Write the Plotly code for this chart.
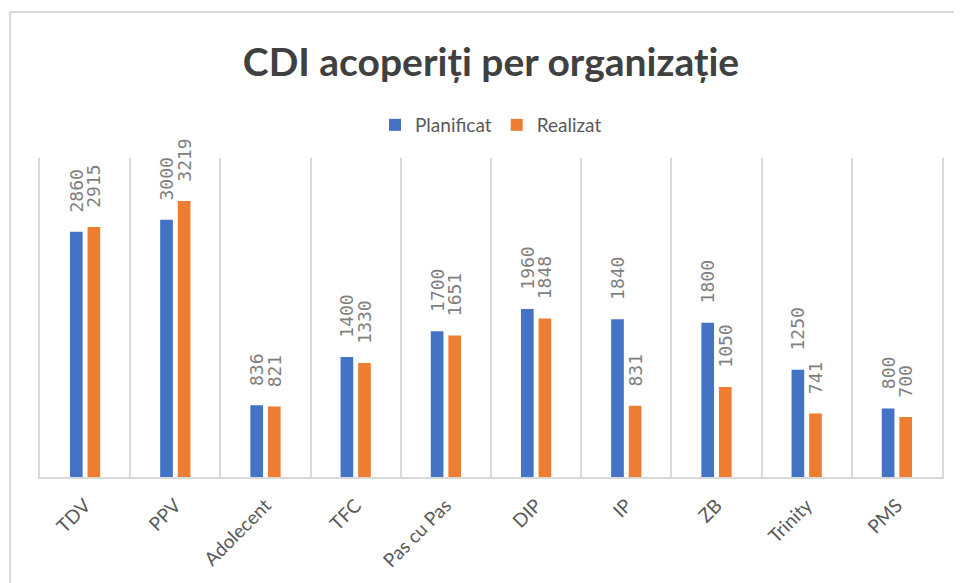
import plotly.graph_objects as go

categories = ["TDV", "PPV", "Adolecent", "TFC", "Pas cu Pas", "DIP", "IP", "ZB", "Trinity", "PMS"]
planificat = [2860, 3000, 836, 1400, 1700, 1960, 1840, 1800, 1250, 800]
realizat = [2915, 3219, 821, 1330, 1651, 1848, 831, 1050, 741, 700]

# page has an 8px body margin; work in page coordinates and convert
OFF = 8
W, H = 962 - OFF, 583 - OFF
PL, PR, PT, PB = 40, 942, 158, 477  # plot area in page pixels
L, R, T, B = PL - OFF, W - (PR - OFF), PT - OFF, H - (PB - OFF)
pw, ph = W - L - R, H - T - B

def px(x):
    return (x - OFF - L) / pw

def py(y):
    return (PB - y) / ph

label_font = dict(family="DejaVu Sans Mono", size=18, color="#7f7f7f")
label_tpl = "\u00a0<span style='font-size:9px'>\u00a0</span>%{y}"

fig = go.Figure()
fig.add_trace(go.Bar(
    name="Planificat", x=categories, y=planificat,
    marker=dict(color="#4472C4", line=dict(width=0)),
    texttemplate=label_tpl, textposition="outside", textangle=-90,
    textfont=label_font, constraintext="none", cliponaxis=False,
))
fig.add_trace(go.Bar(
    name="Realizat", x=categories, y=realizat,
    marker=dict(color="#ED7D31", line=dict(width=0)),
    texttemplate=label_tpl, textposition="outside", textangle=-90,
    textfont=label_font, constraintext="none", cliponaxis=False,
))

fig.update_layout(
    width=W, height=H,
    margin=dict(l=L, r=R, t=T, b=B),
    paper_bgcolor="white", plot_bgcolor="white",
    barmode="group", bargap=0.61, bargroupgap=0.28,
    title=dict(text="<b>CDI acoperiți per organizație</b>",
               font=dict(family="Lato", size=39, color="#404040"),
               x=0.5, xref="paper", xanchor="center",
               y=1 - (62 - OFF) / H, yref="container", yanchor="middle"),
    legend=dict(orientation="h", x=0.5, xanchor="center", y=py(125), yanchor="middle",
                font=dict(family="Lato", size=19, color="#595959"),
                bgcolor="rgba(0,0,0,0)", itemwidth=30, traceorder="normal"),
    showlegend=True,
    xaxis=dict(showline=True, linecolor="#d9d9d9", linewidth=2,
               showgrid=True, gridcolor="#d9d9d9", gridwidth=2,
               tickson="boundaries", ticks="", tickangle=-45,
               tickfont=dict(family="Lato", size=19, color="#595959"),
               ticklabelstandoff=8),
    yaxis=dict(range=[0, 3720], showticklabels=False, showgrid=False, zeroline=False,
               showline=True, mirror=True, linecolor="#d9d9d9", linewidth=2),
    shapes=[
        dict(type="line", xref="paper", yref="paper", x0=px(10), x1=px(10), y0=py(12), y1=py(600),
             line=dict(color="#d9d9d9", width=2)),
        dict(type="line", xref="paper", yref="paper", x0=px(10), x1=px(980), y0=py(12), y1=py(12),
             line=dict(color="#d9d9d9", width=2)),
    ],
)

fig.write_html("out.html")
